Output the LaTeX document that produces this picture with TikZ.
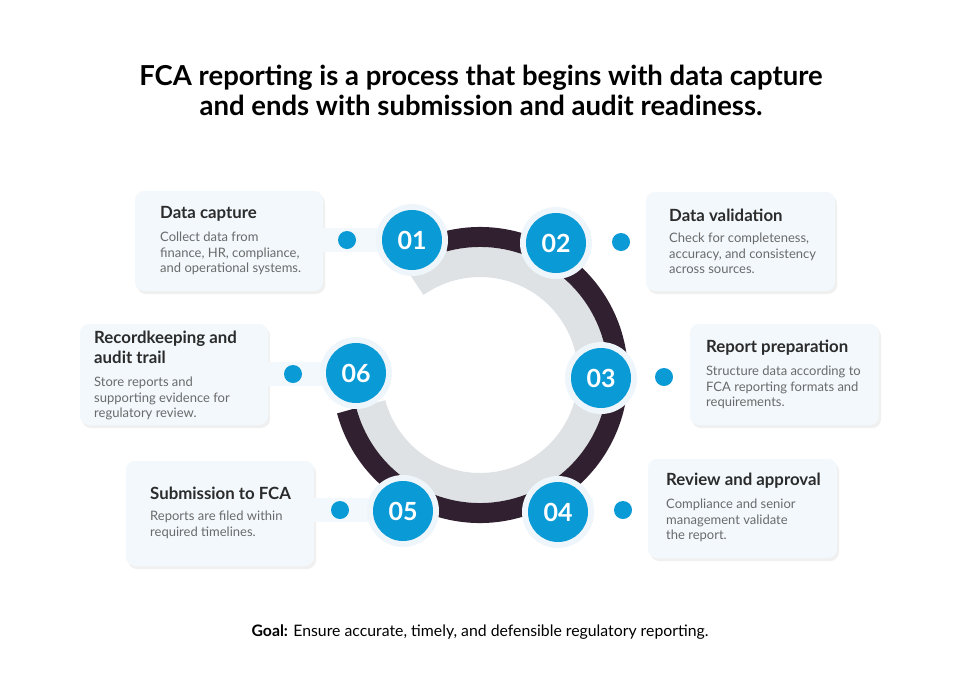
\documentclass[tikz,border=0pt]{standalone}
\usepackage{fontspec}
\setmainfont{Lato}
\definecolor{blu}{HTML}{0A9AD6}
\definecolor{card}{HTML}{F2F8FC}
\definecolor{halo}{HTML}{EEF6FB}
\definecolor{dark}{HTML}{312030}
\definecolor{ring}{HTML}{DEE2E4}
\definecolor{ttl}{HTML}{2B2B2B}
\definecolor{body}{HTML}{6A6A6A}
\begin{document}
\begin{tikzpicture}[x=1pt,y=-1pt,
  numc/.style={circle,fill=blu,minimum size=60pt,inner sep=0pt,text=white,font=\bfseries\fontsize{25}{25}\selectfont},
  haloc/.style={circle,fill=halo,minimum size=72pt,inner sep=0pt},
  dotc/.style={circle,fill=blu,minimum size=18pt,inner sep=0pt},
  ctitle/.style={anchor=west,inner sep=0pt,text=ttl,font=\bfseries\fontsize{16.8}{20}\selectfont,align=left},
  cbody/.style={anchor=north west,inner sep=0pt,text=body,font=\fontsize{13}{15.5}\selectfont,align=left}]
\useasboundingbox (0,0) rectangle (960,675);
\fill[white] (0,0) rectangle (960,675);
\node[text=black,font=\bfseries\fontsize{27.5}{30}\selectfont,align=center] (title) at (481,90)
 {FCA reporting is a process that begins with data capture\\and ends with submission and audit readiness.};
% ring
\coordinate (c) at (480,375);
\draw[ring,line width=30pt] (c) ++(-125:113) arc (-125:165:113);
\draw[dark,line width=20pt] (c) ++(-105:138) arc (-105:165:138);
% cards
\foreach \n/\x/\y/\w/\h/\cx/\cy/\dx/\dy in {
 1/135/191/188/100/412/240/347/240,
 2/646/192/189/99/556/243/621/242,
 3/690/324/189/101/601/378/664/377,
 4/648/459/189/99/558/512/623/510,
 5/126/461/188/105/403/511/340/510,
 6/80/324/188/101/356/373/293/374}{
 \fill[black!6,rounded corners=9pt] ({\x+2},{\y+3}) rectangle ++(\w,\h);
 \fill[card,rounded corners=9pt] (\x,\y) rectangle ++(\w,\h);
 \fill[card] ({\dx-30},{\dy-12}) rectangle (\cx,{\dy+12});
 \node[haloc] (h\n) at (\cx,\cy) {};
 \node[dotc] (d\n) at (\dx,\dy) {};
}
\foreach \n/\cx/\cy in {1/412/240,2/556/243,3/601/378,4/558/512,5/403/511,6/356/373}{
 \node[numc] (n\n) at (\cx,\cy) {0\n};
}
\node[ctitle] (t1) at (160,214) {Data capture};
\node[cbody] (b1) at (160,232) {Collect data from\\finance, HR, compliance,\\and operational systems.};
\node[ctitle] (t2) at (669,215) {Data validation};
\node[cbody] (b2) at (669,233) {Check for completeness,\\accuracy, and consistency\\across sources.};
\node[ctitle] (t3) at (706,348) {Report preparation};
\node[cbody] (b3) at (706,366) {Structure data according to\\FCA reporting formats and\\requirements.};
\node[ctitle] (t4) at (666,481) {Review and approval};
\node[cbody] (b4) at (666,499) {Compliance and senior\\management validate\\the report.};
\node[ctitle] (t5) at (150,493) {Submission to FCA};
\node[cbody] (b5) at (150,511) {Reports are filed within\\required timelines.};
\node[ctitle,anchor=north west] (t6) at (94,331) {Recordkeeping and\\audit trail};
\node[cbody] (b6) at (94,377) {Store reports and\\supporting evidence for\\regulatory review.};
\node[font=\fontsize{15.8}{18}\selectfont,text=black] (goal) at (480,632) {\textbf{Goal:} Ensure accurate, timely, and defensible regulatory reporting.};
\end{tikzpicture}
\end{document}
